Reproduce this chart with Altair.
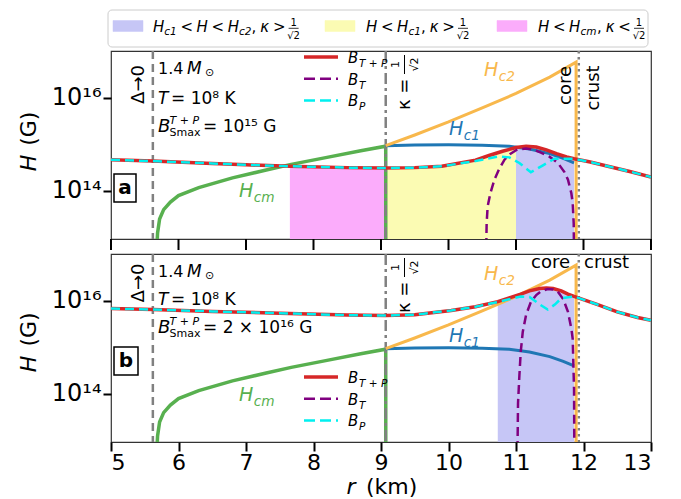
import altair as alt
import numpy as np
import pandas as pd

# ---------------- data ----------------
R_TICKS = [5, 6, 7, 8, 9, 10, 11, 12, 13]
Y_TICKS = [1e14, 1e16]

R_DELTA = 5.62
R_KAPPA = 9.07
R_CORE = 11.93

# critical fields (same star in both panels), log10(H / G)
HCM_R = [5.67, 5.69, 5.72, 5.78, 5.88, 6.0, 6.3, 6.8, 7.3, 7.67, 8.2, 8.7, 9.07, 9.071]
HCM_LOG = [12.5, 13.1, 13.4, 13.6, 13.76, 13.9, 14.07, 14.28, 14.45, 14.57, 14.72, 14.86, 14.96, 12.0]

HC1_R = [9.07, 9.5, 10.0, 10.5, 10.9, 11.2, 11.5, 11.7, 11.86]
HC1_LOG = [14.97, 14.985, 14.99, 14.98, 14.96, 14.9, 14.8, 14.7, 14.6]

HC2_R = [9.07, 9.5, 10.0, 10.5, 11.0, 11.5, 11.89, 11.891]
HC2_LOG = [14.97, 15.2, 15.48, 15.78, 16.09, 16.44, 16.76, 12.0]

# panel a : B_Smax = 1e15 G
A_BTP_R = [5.0, 5.62, 6.5, 7.0, 7.65, 8.5, 9.07, 9.5, 9.9, 10.4, 10.6, 10.8, 11.0,
           11.15, 11.3, 11.45, 11.6, 11.75, 11.86, 12.1, 12.36, 12.7, 13.0]
A_BTP_LOG = [14.67, 14.64, 14.59, 14.56, 14.53, 14.50, 14.49, 14.50, 14.53, 14.66, 14.76, 14.85, 14.93,
             14.96, 14.94, 14.88, 14.80, 14.73, 14.69, 14.62, 14.53, 14.41, 14.30]
A_BP_R = [5.0, 5.62, 6.5, 7.0, 7.65, 8.5, 9.07, 9.5, 9.9, 10.4, 10.75, 10.9, 11.05, 11.22,
          11.4, 11.57, 11.86, 12.1, 12.36, 12.7, 13.0]
A_BP_LOG = [14.67, 14.64, 14.59, 14.56, 14.53, 14.50, 14.49, 14.50, 14.53, 14.64, 14.74, 14.72, 14.60, 14.40,
            14.55, 14.69, 14.69, 14.62, 14.53, 14.41, 14.30]
A_BT_R = [10.556, 10.565, 10.58, 10.62, 10.68, 10.75, 10.83, 10.92, 11.02, 11.15, 11.27, 11.37,
          11.5, 11.62, 11.72, 11.77, 11.82, 11.84, 11.855, 11.86]
A_BT_LOG = [12.5, 13.3, 13.67, 13.95, 14.24, 14.47, 14.67, 14.8, 14.89, 14.91, 14.88, 14.82,
            14.73, 14.6, 14.4, 14.24, 13.95, 13.74, 13.3, 12.5]

# panel b : B_Smax = 2e16 G
B_BTP_R = [5.0, 5.62, 6.5, 7.5, 8.5, 9.07, 9.5, 10.04, 10.4, 10.73, 10.9, 11.07, 11.2, 11.35,
           11.45, 11.55, 11.67, 11.77, 11.86, 12.2, 12.5, 12.8, 13.0]
B_BTP_LOG = [15.83, 15.81, 15.77, 15.73, 15.69, 15.68, 15.70, 15.79, 15.87, 15.98, 16.06, 16.14, 16.21, 16.26,
             16.27, 16.26, 16.21, 16.14, 16.09, 15.92, 15.76, 15.64, 15.58]
B_BP_R = [5.0, 5.62, 6.5, 7.5, 8.5, 9.07, 9.5, 10.04, 10.4, 10.73, 11.07, 11.2, 11.35, 11.47,
          11.58, 11.67, 11.86, 12.2, 12.5, 12.8, 13.0]
B_BP_LOG = [15.83, 15.81, 15.77, 15.73, 15.69, 15.68, 15.70, 15.79, 15.87, 15.97, 16.09, 16.08, 15.92, 15.81,
            15.92, 16.05, 16.09, 15.92, 15.76, 15.64, 15.58]
B_BT_R = [11.02, 11.03, 11.05, 11.07, 11.1, 11.15, 11.22, 11.3, 11.37, 11.47, 11.55, 11.62,
          11.7, 11.77, 11.82, 11.84, 11.86, 11.865]
B_BT_LOG = [12.5, 13.8, 14.39, 14.9, 15.33, 15.7, 15.97, 16.12, 16.2, 16.25, 16.24, 16.19,
            16.03, 15.76, 15.4, 15.18, 14.1, 12.5]

# shaded phase regions: (r_start, r_end) under the B_{T+P} curve
A_PINK = (7.65, 9.07)
A_YELLOW = (9.07, 11.0)
A_LAV = (11.0, 11.86)
B_LAV = (10.73, 11.86)

# ---------------- style ----------------
W, HGT = 540, 188
FONT = "DejaVu Sans"
LOGMIN, LOGMAX = 12.97, 17.0
C_RED, C_PURPLE, C_CYAN = "#d62728", "#800080", "#00f0f0"
C_GREEN, C_BLUE, C_ORANGE = "#58b04f", "#1f77b4", "#f8b84c"
C_LAV, C_YEL, C_PINK = "#c6c6f6", "#fbfbb3", "#fbacfb"
C_GRAY = "#808080"
ONE = alt.Data(values=[{"k": 0}])

XS = alt.Scale(domain=[5, 13], nice=False, zero=False)
YS = alt.Scale(type="log", domain=[10 ** LOGMIN, 10 ** LOGMAX], nice=False)
YAX = alt.Axis(values=Y_TICKS, labelExpr="datum.value < 1e15 ? '10¹⁴' : '10¹⁶'",
               labelFontSize=24, labelPadding=2, tickSize=8, tickWidth=2, domain=False,
               grid=False, title=None)


def xenc(labels):
    if labels:
        ax = alt.Axis(values=R_TICKS, labelFontSize=22, labelPadding=1, tickSize=9, tickWidth=2,
                      domain=False, grid=False, title=None)
    else:
        ax = None
    return alt.X("r:Q", scale=XS, axis=ax)


Y = alt.Y("H:Q", scale=YS, axis=YAX)


def frame(r, logv):
    return pd.DataFrame({"r": r, "H": 10 ** np.array(logv, dtype=float)})


def curve(X, r, logv, color, width, dash=None):
    kw = dict(color=color, strokeWidth=width, clip=True)
    if dash:
        kw["strokeDash"] = dash
    return alt.Chart(frame(r, logv)).mark_line(**kw).encode(x=X, y=Y)


def fill(X, r, logv, lo, hi, color):
    df = frame(r, logv)
    df = df[(df.r >= lo - 1e-9) & (df.r <= hi + 1e-9)].copy()
    df["H0"] = 10 ** LOGMIN
    return alt.Chart(df).mark_area(color=color, opacity=1, clip=True).encode(
        x=X, y=Y, y2="H0:Q")


def vline(X, r, dash):
    return alt.Chart(pd.DataFrame({"r": [r]})).mark_rule(
        color=C_GRAY, strokeWidth=2.5, strokeDash=dash).encode(x=X)


def bottom_ticks(X, size):
    return alt.Chart(pd.DataFrame({"r": R_TICKS})).mark_rule(
        color="black", strokeWidth=2).encode(x=X, y=alt.value(HGT), y2=alt.value(HGT + size))


def T(s, x, y, size, color="black", style="normal", weight="normal", angle=0,
      align="left", baseline="alphabetic"):
    return alt.Chart(ONE).mark_text(text=s, font=FONT, fontSize=size, fontStyle=style,
                                    fontWeight=weight, color=color, angle=angle,
                                    align=align, baseline=baseline).encode(
        x=alt.value(x), y=alt.value(y))


def seg(x1, x2, y, color, width, dash=None):
    kw = dict(color=color, strokeWidth=width)
    if dash:
        kw["strokeDash"] = dash
    return alt.Chart(ONE).mark_rule(**kw).encode(
        x=alt.value(x1), x2=alt.value(x2), y=alt.value(y))


def vseg(x, y1, y2, color, width):
    return alt.Chart(ONE).mark_rule(color=color, strokeWidth=width).encode(
        x=alt.value(x), y=alt.value(y1), y2=alt.value(y2))


def box(x1, y1, x2, y2, stroke, sw, radius=0, fillc="white"):
    return alt.Chart(ONE).mark_rect(fill=fillc, stroke=stroke, strokeWidth=sw,
                                    cornerRadius=radius).encode(
        x=alt.value(x1), x2=alt.value(x2), y=alt.value(y1), y2=alt.value(y2))


def hsub(main, sub, x, base, color, size=19):
    return [T(main, x, base, size, color=color, style="italic"),
            T(sub, x + size * 0.78, base + 4.5, size * 0.72, color=color, style="italic")]


def kappa_label():
    return [T("κ =", 294, 59, 18, angle=270, align="left", baseline="middle"),
            vseg(293.5, 4, 23, "black", 1),
            T("1", 285, 13.5, 11, angle=270, align="center", baseline="middle"),
            T("√2", 304, 13.5, 11, angle=270, align="center", baseline="middle")]


def b_legend(y0):
    out = []
    rows = [("T + P", C_RED, None, 3.5), ("T", C_PURPLE, [11, 5], 2.5), ("P", C_CYAN, [11, 5], 2.5)]
    for i, (sub, col, dash, w) in enumerate(rows):
        yy = y0 + i * 21.7
        out.append(seg(193, 227, yy, col, w, dash))
        out.append(T("B", 237, yy + 6, 15, style="italic"))
        out.append(T(sub, 248, yy + 10, 10.5, style="italic"))
    return out


def mrow(pieces, x0, base):
    out = []
    x = x0
    for s, size, style, dy, adv in pieces:
        if s == "FRAC":
            xc = x + 4.5
            out.append(T("1", xc, base - 6, 10, align="center"))
            out.append(seg(xc - 5, xc + 5, base - 3.5, "black", 0.8))
            out.append(T("√2", xc, base + 7.5, 10, align="center"))
        else:
            out.append(T(s, x, base + dy, size, style=style))
        x += adv
    return out


def top_legend():
    base = -19.2
    out = [box(-3, -41, 537, -4, "#cccccc", 1, radius=4)]
    g = 3.6
    H = ("H", 15, "italic", 0, 11.3)
    Hg = ("H", 15, "italic", 0, 11.3 + g)
    lt = ("<", 15, "normal", 0, 12.6 + g)
    gt = (">", 15, "normal", 0, 12.6 + g)
    com = (",", 15, "normal", 0, 4.8 + 4)
    kap = ("κ", 15, "italic", 0, 9 + g)
    fr = ("FRAC", 0, "", 0, 9)

    def sub(s, w):
        return (s, 10.5, "italic", 3.5, w)

    e1 = [H, sub("c1", 12.5 + g), lt, Hg, lt, H, sub("c2", 12.5), com, kap, gt, fr]
    e2 = [Hg, lt, H, sub("c1", 12.5), com, kap, gt, fr]
    e3 = [Hg, lt, H, sub("cm", 16.5), com, kap, lt, fr]
    for (px, col, pieces, tx) in [(2, C_LAV, e1, 42), (214, C_YEL, e2, 255), (386, C_PINK, e3, 427)]:
        out.append(box(px, -30.5, px + 30, -19.5, col, 0.5, fillc=col))
        out += mrow(pieces, tx, base)
    return out


def panel(btp, bp, bt, fills, labels_bottom, ann):
    X = xenc(labels_bottom)
    layers = []
    for lo_hi, col in fills:
        layers.append(fill(X, btp[0], btp[1], lo_hi[0], lo_hi[1], col))
    layers += [
        curve(X, HCM_R, HCM_LOG, C_GREEN, 3.5),
        vline(X, R_DELTA, [8, 5]),
        vline(X, R_KAPPA, [11, 4, 3, 4]),
        vline(X, R_CORE, [2.5, 3.5]),
        curve(X, HC1_R, HC1_LOG, C_BLUE, 3),
        curve(X, HC2_R, HC2_LOG, C_ORANGE, 3),
        curve(X, btp[0], btp[1], C_RED, 3.5),
        curve(X, bt[0], bt[1], C_PURPLE, 2.5, [9, 5]),
        curve(X, bp[0], bp[1], C_CYAN, 2.5, [9, 5]),
    ]
    if not labels_bottom:
        layers.append(bottom_ticks(X, 11))
    layers += ann
    return alt.layer(*layers).properties(width=W, height=HGT)


# ---------------- panel a ----------------
ann_a = [
    T("Δ→0", 27.5, 33.5, 18, angle=270, align="center", baseline="middle"),
    T("1.4", 47, 22.7, 16), T("M", 76, 22.7, 17, style="italic"), T("⊙", 94, 24.5, 11),
    T("T", 47, 52.7, 17, style="italic"), T("= 10⁸ K", 60, 52.7, 17),
    T("B", 47, 81, 18, style="italic"), T("T + P", 58.5, 72.5, 11, style="italic"),
    T("Smax", 58.5, 84.5, 11), T("= 10¹⁵ G", 92, 81, 17),
    box(3, 123, 25, 151, "black", 1.5), T("a", 14, 137, 20, weight="bold", align="center", baseline="middle"),
    T("core", 455, 34.5, 18, angle=270, align="center", baseline="middle"),
    T("crust", 482.5, 37, 18, angle=270, align="center", baseline="middle"),
    T("H", -82, 112, 22, style="italic", angle=270, align="center", baseline="middle"),
    T("(G)", -82, 77.7, 22, angle=270, align="center", baseline="middle"),
] + hsub("H", "cm", 128, 146, C_GREEN) + hsub("H", "c1", 338, 84, C_BLUE) \
  + hsub("H", "c2", 373, 25, C_ORANGE) + kappa_label() + b_legend(6) + top_legend()

panel_a = panel((A_BTP_R, A_BTP_LOG), (A_BP_R, A_BP_LOG), (A_BT_R, A_BT_LOG),
                [(A_PINK, C_PINK), (A_YELLOW, C_YEL), (A_LAV, C_LAV)], False, ann_a)

# ---------------- panel b ----------------
ann_b = [
    T("Δ→0", 27.5, 29, 18, angle=270, align="center", baseline="middle"),
    T("1.4", 47, 22.7, 16), T("M", 76, 22.7, 17, style="italic"), T("⊙", 94, 24.5, 11),
    T("T", 47, 51, 17, style="italic"), T("= 10⁸ K", 60, 51, 17),
    T("B", 47, 79, 18, style="italic"), T("T + P", 58.5, 70.5, 11, style="italic"),
    T("Smax", 58.5, 82.5, 11), T("= 2 × 10¹⁶ G", 92, 79, 17),
    box(3, 93, 27, 121, "black", 1.5), T("b", 15, 107, 20, weight="bold", align="center", baseline="middle"),
    T("core", 420, 14, 18), T("crust", 473, 14, 18),
    T("H", -82, 110, 22, style="italic", angle=270, align="center", baseline="middle"),
    T("(G)", -82, 75.5, 22, angle=270, align="center", baseline="middle"),
    T("r", 240, 240, 22, style="italic", align="center"), T("(km)", 255, 240, 22),
] + hsub("H", "cm", 128, 147, C_GREEN) + hsub("H", "c1", 338, 88, C_BLUE) \
  + hsub("H", "c2", 373, 26, C_ORANGE) + kappa_label() + b_legend(123)

panel_b = panel((B_BTP_R, B_BTP_LOG), (B_BP_R, B_BP_LOG), (B_BT_R, B_BT_LOG),
                [(B_LAV, C_LAV)], True, ann_b)

chart = alt.vconcat(panel_a, panel_b, spacing=0).properties(
    padding={"left": 9, "top": 0, "right": 4, "bottom": 0}
).configure_view(stroke="#333333", strokeWidth=1.2).configure_axis(
    labelFont=FONT, labelColor="black", tickColor="black"
)

chart.save("out.html", embed_options={"renderer": "svg", "actions": False})
